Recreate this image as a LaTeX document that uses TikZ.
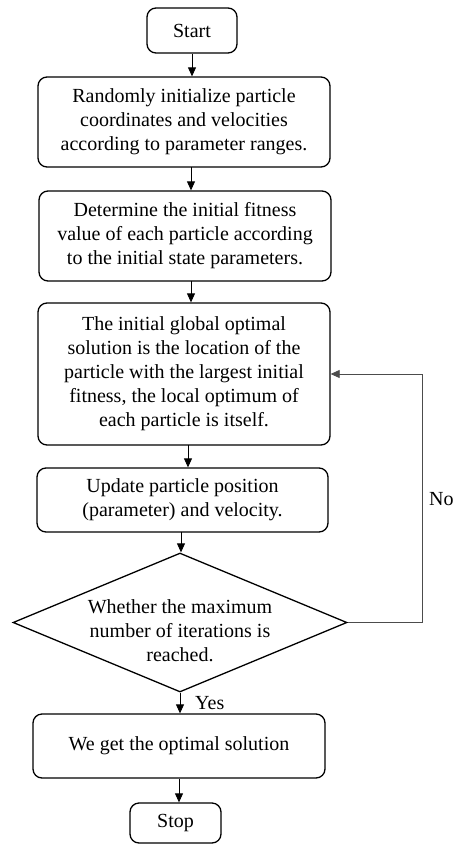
\documentclass[tikz,border=0pt]{standalone}
\usepackage{fontspec}
\setmainfont{Liberation Serif}
\usetikzlibrary{arrows.meta,calc,shapes.geometric}
\begin{document}
\begin{tikzpicture}[x=1pt,y=-1pt,
  box/.style={draw,line width=1.3pt,rounded corners=9pt,align=center,inner sep=0pt,font=\fontsize{20}{24}\selectfont},
  arr/.style={line width=0.8pt,-{Triangle[length=9pt,width=8pt]}},
  lbl/.style={font=\fontsize{20}{24}\selectfont,inner sep=0pt}]
\useasboundingbox (0,0) rectangle (453,846);
\node[box,minimum width=90pt,minimum height=45pt] (start) at (192,30.5) {Start};
\node[box,minimum width=292pt,minimum height=90pt] (b1) at (184,122) {Randomly initialize particle\\coordinates and velocities\\according to parameter ranges.};
\node[box,minimum width=292pt,minimum height=90pt] (b2) at (185,236) {Determine the initial fitness\\value of each particle according\\to the initial state parameters.};
\node[box,minimum width=292pt,minimum height=142pt] (b3) at (184,374) {The initial global optimal\\solution is the location of the\\particle with the largest initial\\fitness, the local optimum of\\each particle is itself.};
\node[box,minimum width=291pt,minimum height=64pt] (b4) at (182.5,500) {Update particle position\\(parameter) and velocity.};
\node[draw,line width=1.3pt,diamond,minimum width=334pt,minimum height=139pt,inner sep=0pt] (dia) at (180,622.5) {};
\node[lbl,align=center] (diat) at (180,631) {Whether the maximum\\number of iterations is\\reached.};
\node[box,minimum width=292pt,minimum height=64pt] (b5) at (179,746) {We get the optimal solution};
\node[box,minimum width=91pt,minimum height=40pt] (stop) at (175.5,823) {Stop};
\node[lbl,anchor=west] (yes) at (195,703) {Yes};
\node[lbl,anchor=west] (no) at (429,499) {No};
\coordinate (lp) at (422,374);
\coordinate (s1) at (191,167);
\coordinate (s2) at (191,281);
\coordinate (s3) at (188,445);
\coordinate (s4) at (181,532);
\draw[arr] (start.south) -- (start.south |- b1.north);
\draw[arr] (s1) -- (s1 |- b2.north);
\draw[arr] (s2) -- (s2 |- b3.north);
\draw[arr] (s3) -- (s3 |- b4.north);
\draw[arr] (s4) -- (s4 |- dia.north);
\draw[arr] (dia.south) -- (dia.south |- b5.north);
\draw[arr] (b5.south) -- (b5.south |- stop.north);
\draw[arr,draw=black!70] (dia.east) -| (lp) -- (lp -| b3.east);
\end{tikzpicture}
\end{document}
